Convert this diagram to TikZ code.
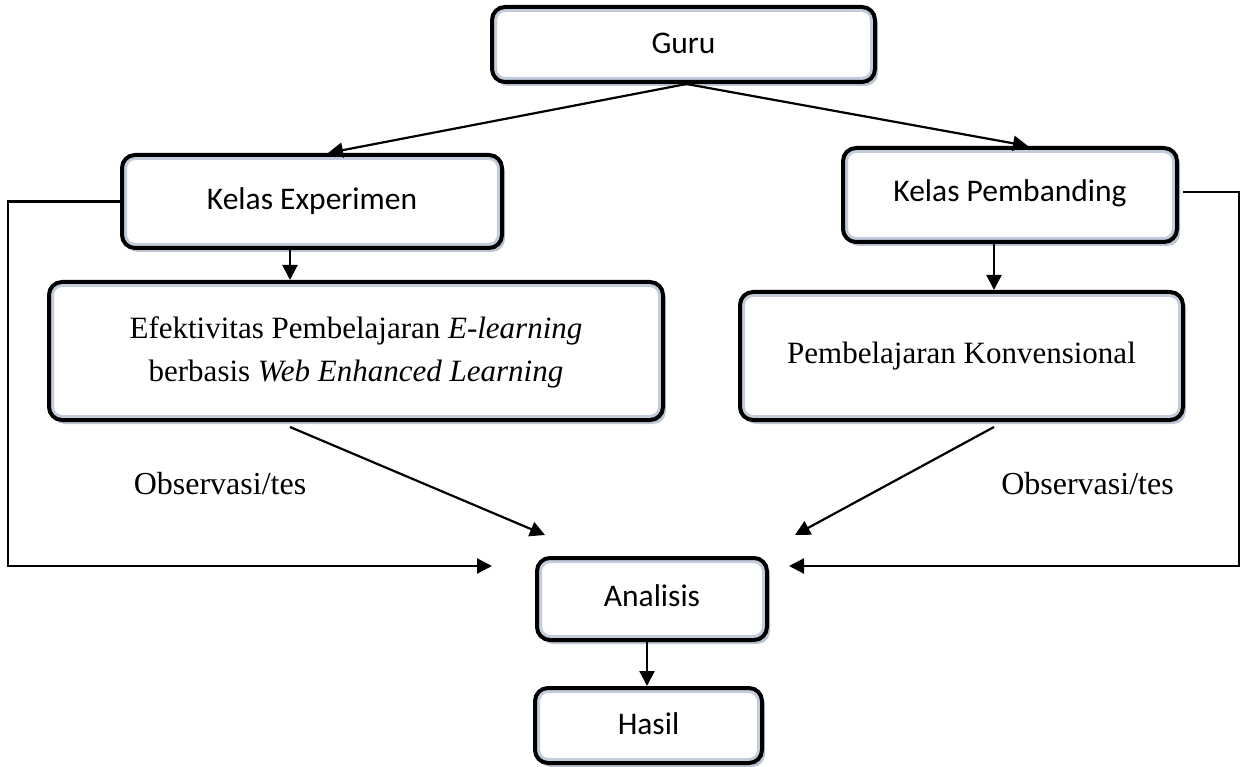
\documentclass[tikz,border=0pt]{standalone}
\usepackage{fontspec}
\setmainfont{Liberation Serif}
\newfontfamily\calib{Carlito}
\usetikzlibrary{shadows,arrows.meta,calc}
\definecolor{shadowc}{RGB}{140,155,178}
\definecolor{glowc}{RGB}{195,204,218}
\tikzset{
  box/.style={draw=black, line width=4pt, rounded corners=13pt, fill=white,
    inner sep=0pt, align=center,
    drop shadow={shadow xshift=3pt, shadow yshift=-4pt, fill=shadowc, opacity=0.6},
    path picture={\draw[glowc, line width=10pt, rounded corners=13pt]
      (path picture bounding box.south west) rectangle (path picture bounding box.north east);}},
  sans/.style={font=\calib\fontsize{31.5}{38}\selectfont},
  serif/.style={font=\fontsize{31}{43}\selectfont},
  conn/.style={line width=2.2pt, -{Triangle[length=15pt,width=15pt]}},
  lbl/.style={font=\fontsize{32}{38}\selectfont, inner sep=0pt}
}
\begin{document}
\begin{tikzpicture}[x=1pt,y=-1pt]
\useasboundingbox (0,0) rectangle (1243,767);
% boxes
\node[box,sans,minimum width=383pt,minimum height=75pt] (guru) at (683.5,44.5) {\raisebox{2pt}{Guru}};
\node[box,sans,minimum width=380pt,minimum height=93pt] (exp) at (312,201.5) {\raisebox{6.5pt}{Kelas Experimen}};
\node[box,sans,minimum width=334pt,minimum height=94pt] (pemb) at (1010,195) {\raisebox{8pt}{Kelas Pembanding}};
\node[box,serif,minimum width=614pt,minimum height=138pt] (eff) at (356,351) {\raisebox{9.8pt}{\begin{tabular}{@{}c@{}}Efektivitas Pembelajaran \textit{E-learning}\\ berbasis \textit{Web Enhanced Learning}\end{tabular}}};
\node[box,serif,minimum width=443pt,minimum height=128pt] (konv) at (961.5,356) {\raisebox{-7pt}{Pembelajaran Konvensional}};
\node[box,sans,minimum width=230pt,minimum height=82pt] (ana) at (652,599) {\raisebox{7pt}{Analisis}};
\node[box,sans,minimum width=227pt,minimum height=75pt] (hasil) at (648.5,725.5) {\raisebox{3.5pt}{Hasil}};
% labels
\node[lbl] (obsL) at (220,484) {Observasi/tes};
\node[lbl] (obsR) at (1087.5,484) {Observasi/tes};
% helper coordinates
\coordinate (xe) at (290,0);
\coordinate (xp) at (994,0);
\coordinate (xa) at (647,0);
\coordinate (xl) at (8,0);
\coordinate (xr) at (1239,0);
\coordinate (tL) at (545,535);
\coordinate (tR) at (795,535);
\coordinate (hL) at (492,566);
\coordinate (hR) at (789,566);
\coordinate (gs) at ($(guru.south)+(3,0)$);
\coordinate (pe) at ($(pemb.east)+(4,-3)$);
% connectors
\draw[conn] (gs) -- ($(exp.north)+(16,0)$);
\draw[conn] (gs) -- ($(pemb.north)+(18,0)$);
\draw[conn] (exp.south -| xe) -- (eff.north -| xe);
\draw[conn] (pemb.south -| xp) -- (konv.north -| xp);
\draw[conn] ($(eff.south -| xe)+(0,5)$) -- (tL);
\draw[conn] ($(konv.south -| xp)+(0,5)$) -- (tR);
\draw[conn] (exp.west) -- (exp.west -| xl) |- (hL);
\draw[conn] (pe) -- (pe -| xr) |- (hR);
\draw[conn] (ana.south -| xa) -- (hasil.north -| xa);
\end{tikzpicture}
\end{document}
